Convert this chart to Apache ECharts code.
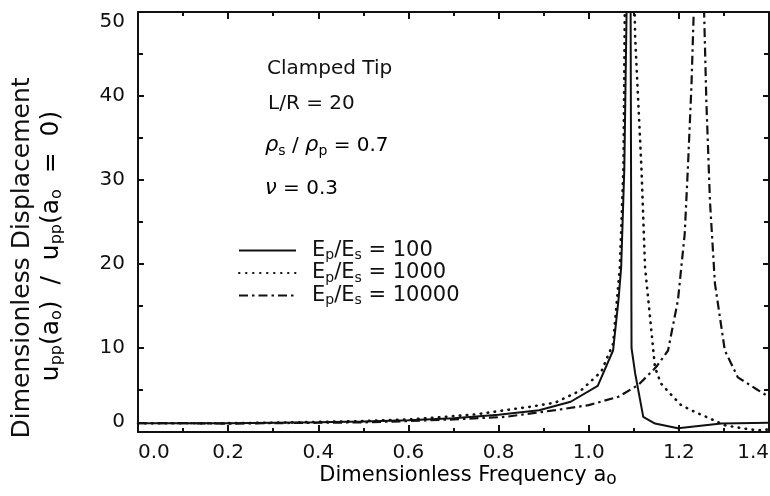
<!DOCTYPE html>
<html>
<head>
<meta charset="utf-8">
<script src="https://cdn.jsdelivr.net/npm/echarts@6/dist/echarts.min.js"></script>
<style>
  html, body { margin: 0; padding: 0; background: #fff; }
  #chart { width: 770px; height: 496px; }
</style>
</head>
<body>
<div id="chart"></div>
<script>
// Ep/Es ratios (legend)
const ratios = [100, 1000, 10000];

// Ep/Es = 100 (solid)
const a100 = [0, 0.1, 0.2, 0.3, 0.4, 0.5, 0.6, 0.7, 0.8, 0.89, 0.96, 1.02, 1.054, 1.066, 1.072, 1.079, 1.084, 1.088, 1.093, 1.095, 1.103, 1.121, 1.147, 1.198, 1.294, 1.4];
const u100 = [1.05, 1.05, 1.05, 1.1, 1.15, 1.25, 1.4, 1.65, 2.05, 2.6, 3.6, 5.5, 9.7, 15.7, 19.6, 31.4, 50, 75, 50, 10, 7, 1.8, 1.0, 0.44, 1.0, 1.1];

// Ep/Es = 1000 (dotted)
const a1000 = [0, 0.1, 0.2, 0.3, 0.4, 0.5, 0.6, 0.667, 0.75, 0.815, 0.87, 0.926, 0.984, 1.028, 1.054, 1.069, 1.077, 1.08, 1.092, 1.103, 1.117, 1.125, 1.136, 1.147, 1.16, 1.18, 1.205, 1.235, 1.265, 1.302, 1.346, 1.375, 1.4];
const u1000 = [1.05, 1.05, 1.05, 1.1, 1.2, 1.3, 1.5, 1.75, 2.1, 2.6, 3.0, 3.5, 5.0, 7.2, 10.5, 19.6, 31.4, 50, 80, 47, 31.4, 19.6, 13.7, 7.7, 5.8, 4.6, 3.2, 2.4, 1.7, 0.8, 0.4, 0.2, 0.3];

// Ep/Es = 10000 (dash-dot)
const a10000 = [0, 0.1, 0.2, 0.3, 0.4, 0.5, 0.6, 0.7, 0.815, 0.926, 1.0, 1.066, 1.11, 1.149, 1.176, 1.198, 1.213, 1.22, 1.228, 1.233, 1.245, 1.256, 1.261, 1.269, 1.28, 1.302, 1.331, 1.375, 1.4];
const u10000 = [1.05, 1.05, 1.0, 1.05, 1.1, 1.15, 1.3, 1.5, 1.8, 2.6, 3.2, 4.2, 5.6, 7.7, 9.7, 15.7, 23.6, 31.4, 41.3, 50, 90, 50, 39.4, 27.5, 17.7, 9.7, 6.5, 5.0, 4.2];

const xTicks = [0.0, 0.2, 0.4, 0.6, 0.8, 1.0, 1.2, 1.4];
const yTicks = [0, 10, 20, 30, 40, 50];

const FONT = "DejaVu Sans";
const INK = "#111";

const zip = (xs, ys) => xs.map((x, i) => [x, ys[i]]);
const names = ratios.map((r) => "Ep/Es = " + r);

const sub = { fontFamily: FONT, fontSize: 14, lineHeight: 12, verticalAlign: "bottom", color: INK };
const norm = (size, lh) => ({ fontFamily: FONT, fontSize: size, lineHeight: lh, color: INK });

const chart = echarts.init(document.getElementById("chart"));

const axisLine = { show: true, onZero: false, lineStyle: { color: INK, width: 2 } };
const xBase = {
  type: "value",
  min: xTicks[0],
  max: xTicks[xTicks.length - 1],
  interval: 0.2,
  axisLine: axisLine,
  axisTick: { show: true, inside: true, length: 7, lineStyle: { color: INK, width: 2 } },
  minorTick: { show: true, splitNumber: 2, length: 4, lineStyle: { color: INK, width: 2 } },
  splitLine: { show: false },
};
const yBase = {
  type: "value",
  min: yTicks[0],
  max: yTicks[yTicks.length - 1],
  interval: 10,
  axisLine: axisLine,
  axisTick: { show: true, inside: true, length: 6, lineStyle: { color: INK, width: 2 } },
  minorTick: { show: true, splitNumber: 2, length: 5, lineStyle: { color: INK, width: 2 } },
  splitLine: { show: false },
};

const option = {
  animation: false,
  backgroundColor: "#fff",
  color: [INK, INK, INK],
  grid: { left: 138, right: 1, top: 12, bottom: 64, outerBoundsMode: "none" },
  xAxis: [
    Object.assign({}, xBase, {
      position: "bottom",
      axisLabel: {
        show: true,
        margin: 11,
        fontFamily: FONT,
        fontSize: 20,
        color: INK,
        showMinLabel: true,
        showMaxLabel: true,
        alignMinLabel: "left",
        alignMaxLabel: "right",
        formatter: (v) => v.toFixed(1),
      },
    }),
    Object.assign({}, xBase, { position: "top", axisLabel: { show: false } }),
  ],
  yAxis: [
    Object.assign({}, yBase, {
      position: "left",
      axisLabel: {
        show: true,
        margin: 13,
        fontFamily: FONT,
        fontSize: 20,
        color: INK,
        showMinLabel: true,
        showMaxLabel: true,
        verticalAlignMinLabel: "bottom",
        verticalAlignMaxLabel: "top",
      },
    }),
    Object.assign({}, yBase, { position: "right", axisLabel: { show: false } }),
  ],
  legend: {
    orient: "vertical",
    left: 233,
    top: 235,
    itemWidth: 57,
    itemHeight: 10,
    itemGap: 0,
    selectedMode: false,
    data: names,
    itemStyle: { opacity: 0 },
    formatter: (name) => {
      const r = name.split("= ")[1];
      return "{n|E}{s|p}{n|/E}{s|s}{n| = " + r + "}";
    },
    textStyle: {
      padding: [0, 0, 0, 11],
      rich: { n: norm(21, 24), s: sub },
    },
  },
  graphic: [
    { type: "text", x: 267, y: 69, style: { text: "Clamped Tip", fontFamily: FONT, fontSize: 20, fill: INK, verticalAlign: "middle" } },
    { type: "text", x: 268, y: 104, style: { text: "L/R = 20", fontFamily: FONT, fontSize: 20, fill: INK, verticalAlign: "middle" } },
    {
      type: "text", x: 265, y: 146,
      style: {
        text: "{r|ρ}{s|s}{n| / }{r|ρ}{s|p}{n| = 0.7}",
        verticalAlign: "middle",
        rich: { n: norm(20, 24), r: Object.assign(norm(21, 24), { fontStyle: "italic" }), s: sub },
      },
    },
    {
      type: "text", x: 265, y: 189,
      style: {
        text: "{r|ν}{n| = 0.3}",
        verticalAlign: "middle",
        rich: { n: norm(20, 24), r: Object.assign(norm(21, 24), { fontStyle: "italic" }) },
      },
    },
    {
      type: "text", x: 22, y: 258, rotation: Math.PI / 2,
      style: { text: "Dimensionless Displacement", fontFamily: FONT, fontSize: 25, fill: INK, align: "center", verticalAlign: "middle" },
    },
    {
      type: "text", x: 51, y: 246, rotation: Math.PI / 2,
      style: {
        text: "{n|u}{s|pp}{n|(a}{s|o}{n|)  /  u}{s|pp}{n|(a}{s|o}{n|  =  0)}",
        align: "center",
        verticalAlign: "middle",
        rich: { n: norm(25, 27), s: Object.assign({}, sub, { fontSize: 16 }) },
      },
    },
    {
      type: "text", x: 468, y: 476,
      style: {
        text: "{n|Dimensionless Frequency a}{s|o}",
        align: "center",
        verticalAlign: "middle",
        rich: { n: norm(21, 24), s: Object.assign({}, sub, { fontSize: 17 }) },
      },
    },
  ],
  series: [
    {
      name: names[0],
      type: "line",
      data: zip(a100, u100),
      symbol: "none",
      clip: true,
      itemStyle: { color: INK },
      lineStyle: { color: INK, width: 2 },
    },
    {
      name: names[1],
      type: "line",
      data: zip(a1000, u1000),
      symbol: "none",
      clip: true,
      itemStyle: { color: INK },
      lineStyle: { color: INK, width: 2.6, type: [0.5, 6.5], cap: "round" },
    },
    {
      name: names[2],
      type: "line",
      data: zip(a10000, u10000),
      symbol: "none",
      clip: true,
      itemStyle: { color: INK },
      lineStyle: { color: INK, width: 2.2, type: [9, 4, 2.5, 4] },
    },
  ],
};

chart.setOption(option);
</script>
</body>
</html>
